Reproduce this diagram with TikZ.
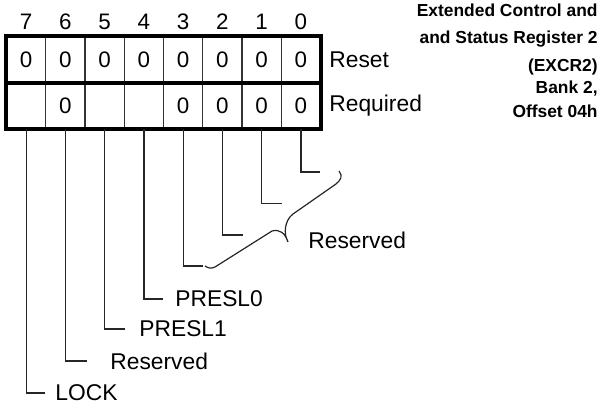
\documentclass[tikz,border=0pt]{standalone}
\usepackage{fontspec}
\setmainfont{Liberation Sans}
\usetikzlibrary{positioning}

\begin{document}
\begin{tikzpicture}[
    x=0.5pt,y=-0.5pt,
    cell/.style={draw=black!80, line width=0.5pt, minimum width=19.62pt, minimum height=23pt, inner sep=0pt, font=\fontsize{11.2}{13}\selectfont},
    bitnum/.style={inner sep=0pt, font=\fontsize{11.2}{13}\selectfont},
    frame/.style={draw=black, line width=2pt},
    lead/.style={draw=black!85, line width=0.6pt},
    lab/.style={inner sep=0pt, font=\fontsize{11.4}{13}\selectfont},
    title/.style={inner sep=0pt, anchor=base east, font=\fontsize{8.7}{12}\selectfont\bfseries}
  ]
    \useasboundingbox (0,0) rectangle (603,407);

    % reset row
    \node[cell] (c7) at (26.1,59.5) {0};
    \node[cell] (c6) at (65.4,59.5) {0};
    \node[cell] (c5) at (104.6,59.5) {0};
    \node[cell] (c4) at (143.9,59.5) {0};
    \node[cell] (c3) at (183.1,59.5) {0};
    \node[cell] (c2) at (222.4,59.5) {0};
    \node[cell] (c1) at (261.6,59.5) {0};
    \node[cell] (c0) at (300.9,59.5) {0};

    % required row
    \node[cell] (q7) at (26.1,105.5) {};
    \node[cell] (q6) at (65.4,105.5) {0};
    \node[cell] (q5) at (104.6,105.5) {};
    \node[cell] (q4) at (143.9,105.5) {};
    \node[cell] (q3) at (183.1,105.5) {0};
    \node[cell] (q2) at (222.4,105.5) {0};
    \node[cell] (q1) at (261.6,105.5) {0};
    \node[cell] (q0) at (300.9,105.5) {0};

    \draw[frame] (c7.north west) rectangle (q0.south east);
    \draw[frame] (c7.south west) -- (c0.south east);

    % bit numbers
    \node[bitnum, above=3pt of c7] (b7) {7};
    \node[bitnum, above=3pt of c6] (b6) {6};
    \node[bitnum, above=3pt of c5] (b5) {5};
    \node[bitnum, above=3pt of c4] (b4) {4};
    \node[bitnum, above=3pt of c3] (b3) {3};
    \node[bitnum, above=3pt of c2] (b2) {2};
    \node[bitnum, above=3pt of c1] (b1) {1};
    \node[bitnum, above=3pt of c0] (b0) {0};

    \node[lab, right=4pt of c0] (reset) {Reset};
    \node[lab, right=4pt of q0] (required) {Required};

    \node[title] (t1) at (598,17) {Extended Control and};
    \node[title] (t2) at (598,43) {and Status Register 2};
    \node[title] (t3) at (598,71) {(EXCR2)};
    \node[title] (t4) at (598,93) {Bank 2,};
    \node[title] (t5) at (598,117) {Offset 04h};

    % leader lines
    \coordinate (e0) at (320,172);
    \coordinate (e1) at (282,203.5);
    \coordinate (e2) at (243,235);
    \coordinate (e3) at (203,266);
    \coordinate (e4) at (163,299);
    \coordinate (e5) at (125,329);
    \coordinate (e6) at (87,361);
    \coordinate (e7) at (45,393);
    \draw[lead] (q0.south) |- (e0);
    \draw[lead] (q1.south) |- (e1);
    \draw[lead] (q2.south) |- (e2);
    \draw[lead] (q3.south) |- (e3);
    \draw[lead] (q4.south) |- (e4);
    \draw[lead] (q5.south) |- (e5);
    \draw[lead] (q6.south) |- (e6);
    \draw[lead] (q7.south) |- (e7);

    \node[lab, right=6pt of e4] (presl0) {PRESL0};
    \node[lab, right=7pt of e5] (presl1) {PRESL1};
    \node[lab, right=11.5pt of e6] (rsv6) {Reserved};
    \node[lab, right=5pt of e7] (lock) {LOCK};

    % brace over bits 3-0
    \draw[lead] (339,171) .. controls (343,176) and (341,180) .. (336,184) -- (293,214)
      .. controls (285,220) and (283,233) .. (288,242)
      .. controls (285,233) and (280,229) .. (272,231) -- (215,267)
      .. controls (211,269) and (208,268) .. (205,266);
    \node[lab, anchor=west] (rsv) at (308,240) {Reserved};
  \end{tikzpicture}
\end{document}
